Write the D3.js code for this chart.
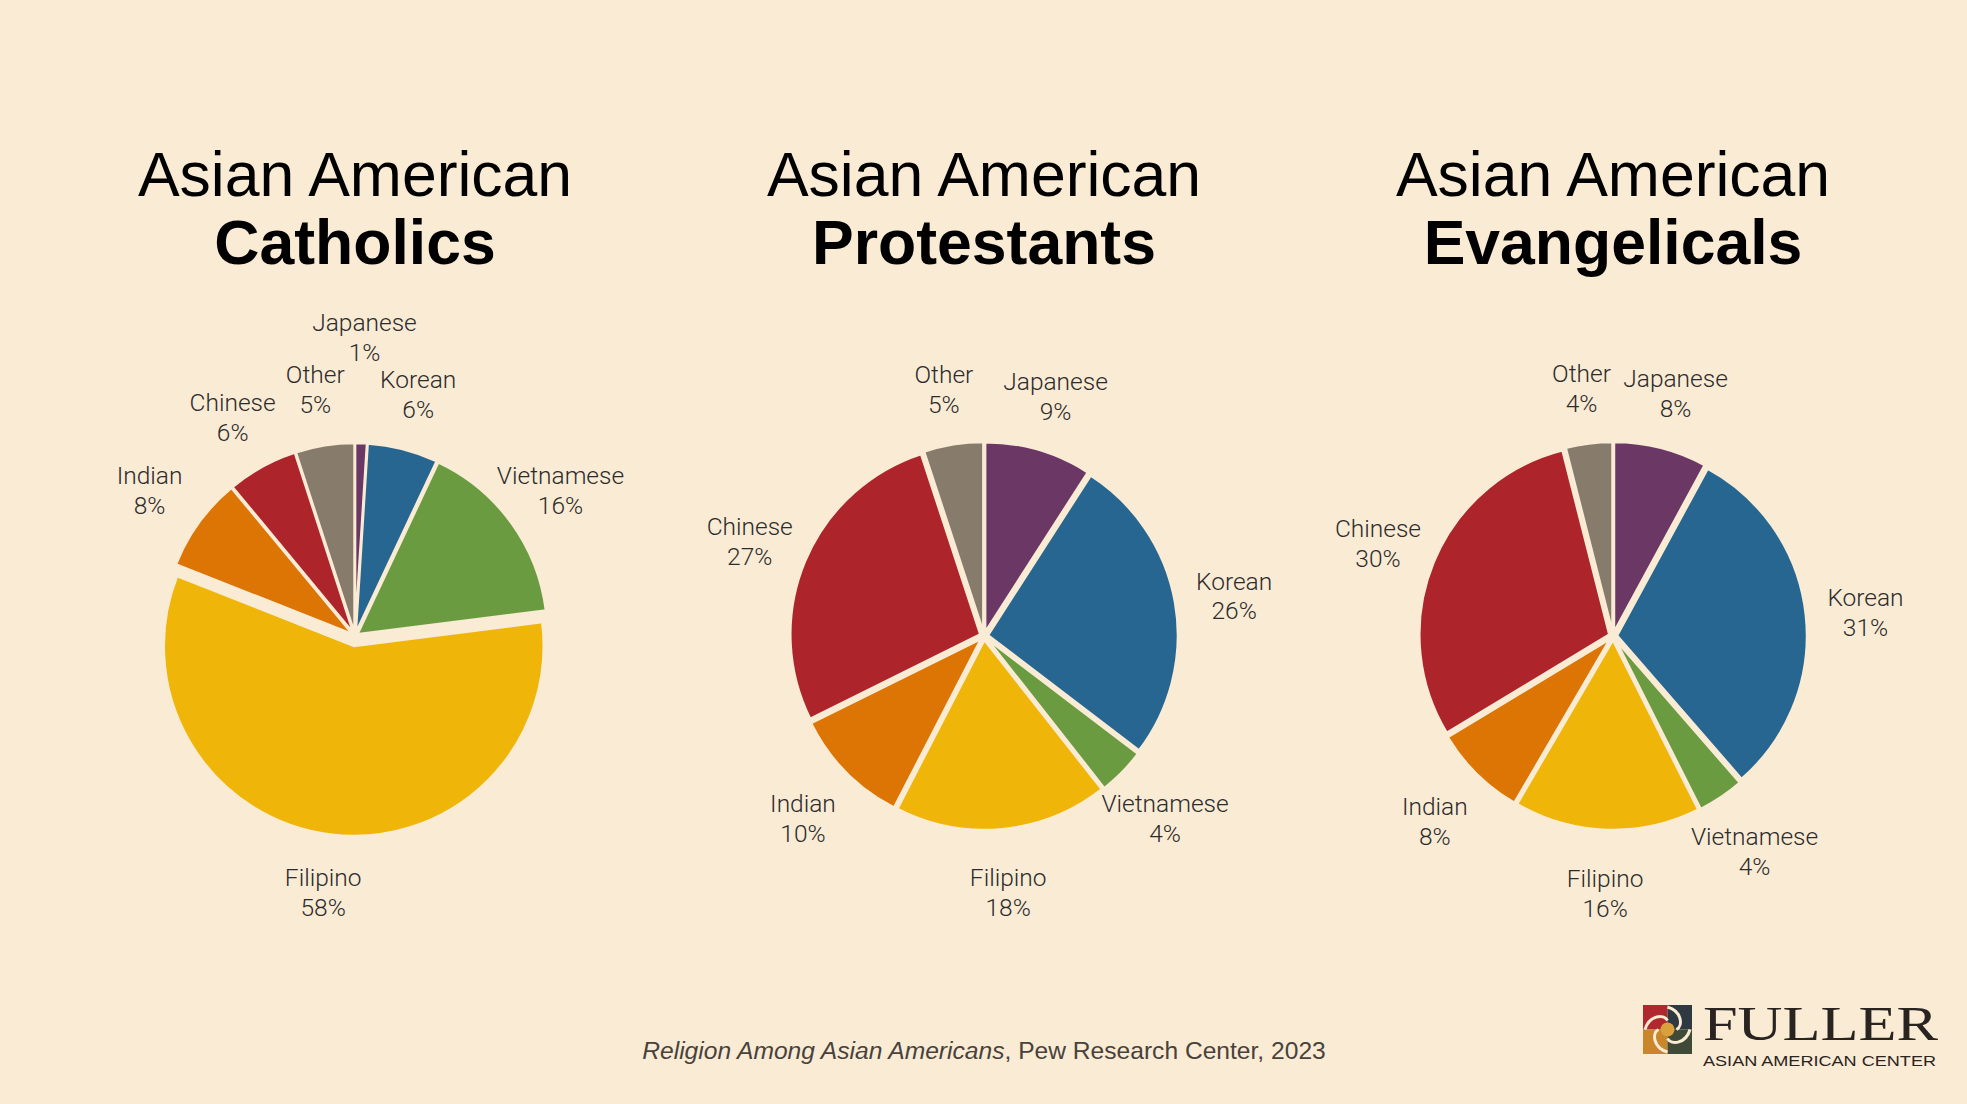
<!DOCTYPE html>
<html lang="en">
<head>
<meta charset="utf-8">
<title>Asian American religious groups by ethnicity</title>
<script src="https://d3js.org/d3.v7.min.js"></script>
<style type="text/css">
html, body { margin: 0; padding: 0; background: #FAEBD5; }
svg        { display: block; }
.title     { font-family: "Liberation Sans", Arial, sans-serif; fill: #000; text-anchor: middle; }
.lbl       { font-family: Roboto, "Liberation Sans", sans-serif; font-weight: 300; fill: #2c2c2c; text-anchor: middle; }
.source    { font-family: "Liberation Sans", Arial, sans-serif; fill: #48423b; text-anchor: middle; }
</style>
</head>
<body>
<script type="text/javascript">

// ethnic groups, clockwise from 12 o'clock
var groups = ["Japanese", "Korean", "Vietnamese", "Filipino", "Indian", "Chinese", "Other"];

// share of each religious group (%)
var catholics    = [1, 6, 16, 58, 8, 6, 5];
var protestants  = [9, 26, 4, 18, 10, 27, 5];
var evangelicals = [8, 31, 4, 16, 8, 30, 4];

var titleTop = "Asian American";
var titleBottom = ["Catholics", "Protestants", "Evangelicals"];
var series = [catholics, protestants, evangelicals];

var sourceItalic = "Religion Among Asian Americans";
var sourceRest = ", Pew Research Center, 2023";

var colors = d3.scaleOrdinal()
    .domain(groups)
    .range(["#6B3866", "#276690", "#6A9B40", "#EFB509", "#DC7503", "#AD252B", "#877B6B"]);

var W = 1967, H = 1104, bg = "#FAEBD5";
var radius = 190, labelRadius = 254, cy = 636;

var svg = d3.select("body")
            .append("svg")
            .attr("width", W)
            .attr("height", H);

svg.append("rect").attr("width", W).attr("height", H).attr("fill", bg);

// one column per chart
var x = d3.scalePoint()
    .domain(titleBottom)
    .range([355, 1613]);

var pie = d3.pie().sort(null).value(function(d) { return d.value; });
var arc = d3.arc().innerRadius(0).outerRadius(radius);

// how far slices are pulled out of each pie
var explode = [
    { base: 3, Filipino: 10 },
    { base: 4 },
    { base: 4 }
];

series.forEach(function(vals, k) {
    var name = titleBottom[k];
    var g = svg.append("g").attr("transform", "translate(" + x(name) + "," + cy + ")");

    svg.append("text").attr("class", "title")
        .attr("x", x(name)).attr("y", 196)
        .style("font-size", "62.5px")
        .text(titleTop);
    svg.append("text").attr("class", "title")
        .attr("x", x(name)).attr("y", 264)
        .style("font-size", "62.5px").style("font-weight", "bold")
        .text(name);

    var data = pie(groups.map(function(gr, i) { return { group: gr, value: vals[i] }; }));

    g.selectAll(".slice")
        .data(data)
        .enter()
        .append("path")
        .attr("class", "slice")
        .attr("d", arc)
        .attr("fill", function(d) { return colors(d.data.group); })
        .attr("stroke", bg)
        .attr("stroke-width", 2.5)
        .attr("stroke-linejoin", "round")
        .attr("transform", function(d) {
            var e = explode[k][d.data.group] != null ? explode[k][d.data.group] : explode[k].base;
            var a = (d.startAngle + d.endAngle) / 2;
            return "translate(" + (e * Math.sin(a)) + "," + (-e * Math.cos(a)) + ")";
        });

    var lbl = g.selectAll(".lbl")
        .data(data)
        .enter()
        .append("text")
        .attr("class", "lbl")
        .style("font-size", "24.5px")
        .attr("transform", function(d) {
            var a = (d.startAngle + d.endAngle) / 2;
            // very thin slices get their label pushed further out
            var r = (d.endAngle - d.startAngle) < 0.1 ? labelRadius * 1.19 : labelRadius;
            return "translate(" + (r * Math.sin(a)) + "," + (4 - r * Math.cos(a)) + ")";
        });
    lbl.append("tspan").attr("x", 0).attr("y", -6.4).text(function(d) { return d.data.group; });
    lbl.append("tspan").attr("x", 0).attr("y", 23.6).text(function(d) { return d.data.value + "%"; });
});

// source line
var src = svg.append("text").attr("class", "source")
    .attr("x", 984).attr("y", 1059)
    .style("font-size", "24.6px");
src.append("tspan").style("font-style", "italic").text(sourceItalic);
src.append("tspan").text(sourceRest);

// logo
var logo = svg.append("g").attr("transform", "translate(1643,1005)");
var s = 49, h = s / 2;
logo.append("rect").attr("width", h).attr("height", h).attr("fill", "#B0282D");
logo.append("rect").attr("x", h).attr("width", h).attr("height", h).attr("fill", "#2E3942");
logo.append("rect").attr("y", h).attr("width", h).attr("height", h).attr("fill", "#C9862A");
logo.append("rect").attr("x", h).attr("y", h).attr("width", h).attr("height", h).attr("fill", "#3F4B36");
logo.append("path")
    .attr("d", "M" + h + ",2 C" + (h + 14) + ",6 " + (h + 16) + "," + (h - 4) + " " + (h + 9) + "," + h +
               " M" + (s - 2) + "," + h + " C" + (s - 6) + "," + (h + 14) + " " + (h + 4) + "," + (h + 16) + " " + h + "," + (h + 9) +
               " M" + h + "," + (s - 2) + " C" + (h - 14) + "," + (s - 6) + " " + (h - 16) + "," + (h + 4) + " " + (h - 9) + "," + h +
               " M2," + h + " C6," + (h - 14) + " " + (h - 4) + "," + (h - 16) + " " + h + "," + (h - 9))
    .attr("fill", "none").attr("stroke", bg).attr("stroke-width", 3);
logo.append("circle").attr("cx", h).attr("cy", h).attr("r", 7).attr("fill", "#D9A03C");

svg.append("text")
    .attr("x", 1703).attr("y", 1040)
    .attr("textLength", 235).attr("lengthAdjust", "spacingAndGlyphs")
    .style("font-family", "'Liberation Serif', serif").style("font-size", "48px")
    .attr("fill", "#2a2420")
    .text("FULLER");
svg.append("text")
    .attr("x", 1703).attr("y", 1066)
    .attr("textLength", 233).attr("lengthAdjust", "spacingAndGlyphs")
    .style("font-family", "'Liberation Sans Narrow', 'Liberation Sans', sans-serif").style("font-size", "15px")
    .attr("fill", "#2a2420")
    .text("ASIAN AMERICAN CENTER");

</script>
</body>
</html>
